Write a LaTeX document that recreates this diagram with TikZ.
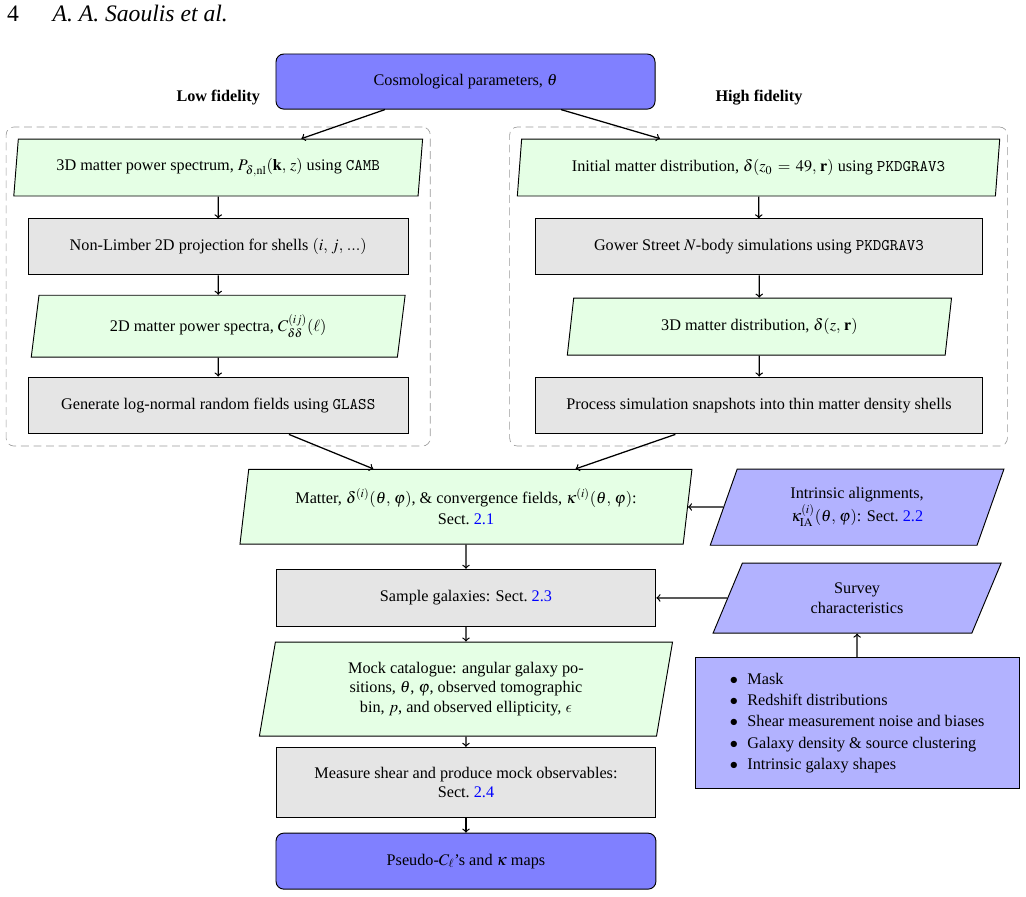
\documentclass[tikz,border=0pt]{standalone}
\usepackage{xcolor}
\usepackage{mathptmx}
\usepackage[no-math]{fontspec}
\setmainfont{Liberation Serif}
\usepackage{tikz}
\usetikzlibrary{shapes.geometric, fit}
\usepackage{amsmath}

\DeclareSymbolFont{cmletters}{OML}{cmm}{m}{it}
\DeclareMathSymbol{\lunateeps}{\mathord}{cmletters}{"0F}
\newcommand{\sectref}[1]{Sect.~\textcolor{blue}{#1}}

\begin{document}
\begin{tikzpicture}[font=\fontsize{10.3}{12.4}\selectfont,
  io/.style={trapezium, trapezium left angle=80, trapezium right angle=100,
    trapezium stretches=true, draw, semithick, fill=green!10, align=center, inner sep=1pt},
  iolight/.style={io, trapezium left angle=70, trapezium right angle=110, fill=blue!30},
  proc/.style={rectangle, draw, semithick, fill=gray!20, align=center, inner sep=1pt},
  term/.style={rectangle, rounded corners=5pt, draw, semithick, fill=blue!50, align=center},
  group/.style={draw=gray!80, dash pattern=on 5pt off 3pt, rounded corners=5pt,
    inner xsep=0.16cm, inner ysep=0.26cm},
  flow/.style={->, thick}]

  \useasboundingbox (0,0) rectangle (22.90,-20.02);

  % Page header
  \node (pagenum) at (0.29,-0.31) {\fontsize{15}{18}\selectfont 4};
  \node[anchor=west] (author) at (1.05,-0.31) {\fontsize{15}{18}\selectfont\itshape A. A. Saoulis et al.};

  % Input
  \node[term, minimum width=8.46cm, minimum height=1.23cm] (cosmo) at (10.39,-1.82)
    {Cosmological parameters, $\theta$};
  \node (lowlabel) at (4.87,-2.17) {\textbf{Low fidelity}};
  \node (highlabel) at (16.94,-2.17) {\textbf{High fidelity}};

  % Low fidelity branch
  \node[io, minimum width=9.15cm, minimum height=1.27cm] (l1) at (4.87,-3.74)
    {3D matter power spectrum, $P_{\delta,\mathrm{nl}}(\mathbf{k},\, z)$ using \texttt{CAMB}};
  \node[proc, minimum width=8.48cm, minimum height=1.25cm] (l2) at (4.87,-5.51)
    {Non-Limber 2D projection for shells $(i,\, j,\, ...)$};
  \node[io, minimum width=8.35cm, minimum height=1.38cm] (l3) at (4.87,-7.28)
    {2D matter power spectra, $C^{(ij)}_{\delta\delta}(\ell)$};
  \node[proc, minimum width=8.48cm, minimum height=1.27cm] (l4) at (4.87,-9.05)
    {Generate log-normal random fields using \texttt{GLASS}};
  \node[group, fit=(l1.bottom left corner)(l1.top right corner)(l4)] (lowbox) {};

  % High fidelity branch
  \node[io, minimum width=10.78cm, minimum height=1.27cm] (r1) at (16.93,-3.74)
    {Initial matter distribution, $\delta(z_0\,=\,49,\, \mathbf{r})$ using \texttt{PKDGRAV3}};
  \node[proc, minimum width=9.96cm, minimum height=1.25cm] (r2) at (16.94,-5.51)
    {Gower Street $N$-body simulations using \texttt{PKDGRAV3}};
  \node[io, minimum width=8.59cm, minimum height=1.27cm] (r3) at (16.95,-7.29)
    {3D matter distribution, $\delta(z,\, \mathbf{r})$};
  \node[proc, minimum width=9.96cm, minimum height=1.27cm] (r4) at (16.94,-9.05)
    {Process simulation snapshots into thin matter density shells};
  \node[group, fit=(r1.bottom left corner)(r1.top right corner)(r4)] (highbox) {};

  % Mock pipeline
  \node[io, minimum width=10.09cm, minimum height=1.67cm] (matter) at (10.40,-11.31)
    {Matter, $\delta^{(i)}(\theta,\, \varphi)$, \& convergence fields, $\kappa^{(i)}(\theta,\, \varphi)$:\\[1pt] \sectref{2.1}};
  \node[proc, minimum width=8.48cm, minimum height=1.27cm] (sample) at (10.40,-13.34)
    {Sample galaxies: \sectref{2.3}};
  \node[io, minimum width=9.24cm, minimum height=2.10cm] (mock) at (10.40,-15.38)
    {Mock catalogue: angular galaxy po-\\ sitions, $\theta$, $\varphi$, observed tomographic\\ bin, $p$, and observed ellipticity, $\lunateeps$};
  \node[proc, minimum width=8.48cm, minimum height=1.56cm] (measure) at (10.40,-17.46)
    {Measure shear and produce mock observables:\\ \sectref{2.4}};
  \node[term, minimum width=8.48cm, minimum height=1.25cm] (pseudo) at (10.40,-19.22)
    {Pseudo-$C_\ell$'s and $\kappa$ maps};

  % Systematics
  \node[iolight, minimum width=6.56cm, minimum height=1.70cm] (ia) at (19.13,-11.32)
    {Intrinsic alignments,\\ $\kappa^{(i)}_{\mathrm{IA}}(\theta,\, \varphi)$: \sectref{2.2}};
  \node[iolight, minimum width=6.47cm, minimum height=1.56cm] (survey) at (19.13,-13.35)
    {Survey\\ characteristics};
  \node[rectangle, draw, semithick, fill=blue!30, minimum width=7.23cm, minimum height=2.92cm] (bullets) at (19.13,-16.13)
    {\renewcommand{\arraystretch}{1.08}%
     \begin{tabular}{@{}l@{\hspace{6pt}}l@{}}
       $\bullet$ & Mask\\
       $\bullet$ & Redshift distributions\\
       $\bullet$ & Shear measurement noise and biases\\
       $\bullet$ & Galaxy density \& source clustering\\
       $\bullet$ & Intrinsic galaxy shapes
     \end{tabular}};

  \draw[flow] (cosmo) -- (l1);
  \draw[flow] (cosmo) -- (r1);
  \draw[flow] (l1) -- (l2);
  \draw[flow] (l2) -- (l3);
  \draw[flow] (l3) -- (l4);
  \draw[flow] (r1) -- (r2);
  \draw[flow] (r2) -- (r3);
  \draw[flow] (r3) -- (r4);
  \draw[flow] (l4) -- (matter);
  \draw[flow] (r4) -- (matter);
  \draw[flow] (matter) -- (sample);
  \draw[flow] (sample) -- (mock);
  \draw[flow] (mock) -- (measure);
  \draw[flow] (measure) -- (pseudo);
  \draw[flow] (ia) -- (matter);
  \draw[flow] (survey) -- (sample);
  \draw[flow] (bullets) -- (survey);
\end{tikzpicture}
\end{document}
